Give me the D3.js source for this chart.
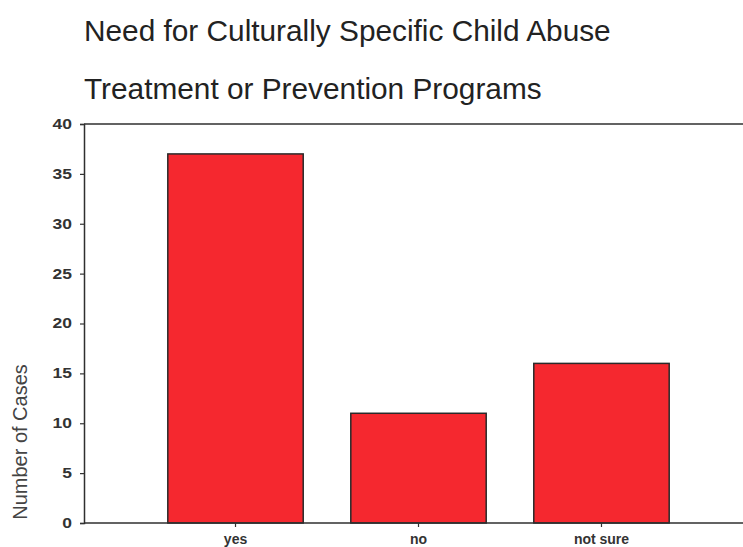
<!DOCTYPE html>
<html>
<head>
<meta charset="utf-8">
<script src="https://cdn.jsdelivr.net/npm/d3@7"></script>
<style>
  html, body { margin: 0; padding: 0; background: #fff; }
  svg { display: block; }
</style>
</head>
<body>
<svg id="chart" width="743" height="547"></svg>
<script>
// Survey responses
const categories = ["yes", "no", "not sure"];
const cases = [37, 11, 16];
const yTicks = [0, 5, 10, 15, 20, 25, 30, 35, 40];
const titleLines = ["Need for Culturally Specific Child Abuse", "Treatment or Prevention Programs"];
const yLabel = "Number of Cases";

const svg = d3.select("#chart");
const plotLeft = 84, plotRight = 743, plotTop = 124, plotBottom = 523;
const font = "Liberation Sans, Arial, sans-serif";
const tickStretch = 1.25;

const x = d3.scaleBand()
  .domain(categories)
  .range([plotLeft, 753])
  .paddingInner(0.26)
  .paddingOuter(0.458);

const y = d3.scaleLinear().domain([0, 40]).range([plotBottom, plotTop]);

// Title
svg.selectAll("text.title")
  .data(titleLines)
  .join("text")
  .attr("class", "title")
  .attr("x", 84)
  .attr("y", (d, i) => 41 + i * 58)
  .attr("font-family", font)
  .attr("font-size", 29.8)
  .attr("fill", "#222")
  .text(d => d);

// Bars
svg.append("g")
  .selectAll("rect")
  .data(categories)
  .join("rect")
  .attr("x", d => x(d))
  .attr("y", (d, i) => y(cases[i]))
  .attr("width", x.bandwidth())
  .attr("height", (d, i) => y(0) - y(cases[i]))
  .attr("fill", "#f5282f")
  .attr("stroke", "#2a2a2a")
  .attr("stroke-width", 1.5);

// Frame line along the top, running to the right edge
svg.append("line")
  .attr("x1", plotLeft).attr("x2", plotRight)
  .attr("y1", plotTop).attr("y2", plotTop)
  .attr("stroke", "#2f2f2f").attr("stroke-width", 1.5);

// Y axis
const yAxis = svg.append("g")
  .attr("transform", `translate(${plotLeft},0)`)
  .call(d3.axisLeft(y).tickValues(yTicks).tickSize(4).tickPadding(8));
yAxis.select(".domain").attr("stroke", "#2f2f2f").attr("stroke-width", 1.5);
yAxis.selectAll(".tick line").attr("stroke", "#333").attr("stroke-width", 1.2);
yAxis.selectAll(".tick text")
  .attr("x", -12 / tickStretch)
  .attr("transform", `scale(${tickStretch},1)`)
  .attr("font-family", font)
  .attr("font-size", 14)
  .attr("font-weight", "bold")
  .attr("fill", "#333");

// X axis
const xAxis = svg.append("g")
  .attr("transform", `translate(0,${plotBottom})`)
  .call(d3.axisBottom(x).tickSize(4).tickPadding(7));
xAxis.select(".domain").remove();
xAxis.selectAll(".tick line").attr("stroke", "#333").attr("stroke-width", 1.2);
xAxis.selectAll(".tick text")
  .attr("font-family", font)
  .attr("font-size", 14)
  .attr("font-weight", "bold")
  .attr("fill", "#333");
svg.append("line")
  .attr("x1", plotLeft).attr("x2", plotRight)
  .attr("y1", plotBottom).attr("y2", plotBottom)
  .attr("stroke", "#2f2f2f").attr("stroke-width", 1.5);

// Y axis title
svg.append("text")
  .attr("transform", "translate(27,442) rotate(-90)")
  .attr("text-anchor", "middle")
  .attr("font-family", font)
  .attr("font-size", 20)
  .attr("fill", "#444")
  .text(yLabel);
</script>
</body>
</html>
